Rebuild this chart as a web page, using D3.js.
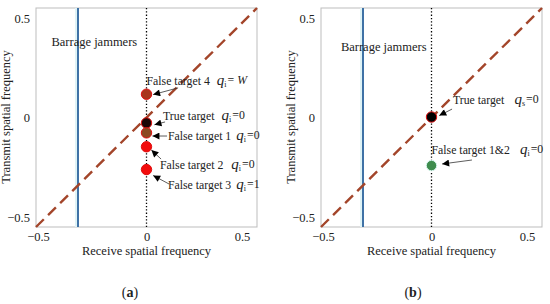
<!DOCTYPE html>
<html><head><meta charset="utf-8">
<script src="https://cdn.jsdelivr.net/npm/d3@7"></script>
<style>body{margin:0;background:#fff}svg{display:block;font-family:"Liberation Serif","Times New Roman",serif}svg text{font-family:"Liberation Serif","Times New Roman",serif !important;fill:#222}</style>
</head><body><svg id="c" width="550" height="304"></svg>
<script>
// ---- data ----
const xTicks = [-0.5, 0, 0.5];
const yTicks = [-0.5, 0, 0.5];
const xDomain = [-0.5, 0.5];
const yDomain = [-0.55, 0.555];
const jammerX = -0.31;          // barrage jammer receive frequency
const diagX = [-0.5, 0.5];      // dashed diagonal (clutter ridge)
const diagY = [-0.55, 0.555];
// panel (a) targets
const aNames  = ["False target 4", "True target", "False target 1", "False target 2", "False target 3"];
const aX      = [0, 0, 0, 0, 0];
const aY      = [0.12, -0.025, -0.075, -0.145, -0.26];
const aFill   = ["#a8361c", "#1c0606", "#8a4a22", "#f20c0c", "#f20c0c"];
const aQsub   = ["i", "i", "i", "i", "i"];
const aQval   = ["= W", "=0", "=0", "=0", "=1"];
// panel (b) targets
const bNames  = ["True target", "False target 1&2"];
const bX      = [0, 0];
const bY      = [0.005, -0.24];
const bFill   = ["#000000", "#3f8c4e"];
const bQsub   = ["s", "i"];
const bQval   = ["=0", "=0"];

const svg = d3.select("#c");
const defs = svg.append("defs");
defs.append("marker").attr("id","ah").attr("viewBox","0 0 10 10").attr("refX",10).attr("refY",5)
  .attr("markerWidth",9).attr("markerHeight",7).attr("markerUnits","userSpaceOnUse").attr("orient","auto")
  .append("path").attr("d","M0,0L10,5L0,10z").attr("fill","#000");

function panel(ox, names, xs, ys, fills, qsub, qval, labelDefs, arrows, tag, tagX, jamLbl) {
  const x = d3.scaleLinear().domain(xDomain).range([ox, ox + 221]);
  const y = d3.scaleLinear().domain(yDomain).range([227, 8]);
  const g = svg.append("g");
  const xa = g.append("g").attr("transform","translate(0,227)")
    .call(d3.axisBottom(x).tickValues(xTicks).tickSize(0).tickPadding(5).tickFormat(d3.format("")));
  xa.attr("font-family",null);
  xa.select(".domain").remove();
  xa.selectAll("text").attr("font-size",12.5).attr("fill","#222")
    .attr("dx", d => d === 0.5 ? -15 : (d === -0.5 ? 2 : 0));
  const ya = g.append("g").attr("transform",`translate(${ox},0)`)
    .call(d3.axisLeft(y).tickValues(yTicks).tickSize(0).tickPadding(6).tickFormat(d3.format("")));
  ya.attr("font-family",null);
  ya.select(".domain").remove();
  ya.selectAll("text").attr("font-size",12.5).attr("fill","#222");
  g.append("rect").attr("x",ox).attr("y",8).attr("width",221).attr("height",219)
    .attr("fill","none").attr("stroke","#bdbdbd").attr("stroke-width",1);
  g.append("line").attr("x1",x(jammerX)-1.5).attr("x2",x(jammerX)-1.5).attr("y1",8).attr("y2",227)
    .attr("stroke","#dff3f6").attr("stroke-width",3);
  g.append("line").attr("x1",x(jammerX)).attr("x2",x(jammerX)).attr("y1",8).attr("y2",227)
    .attr("stroke","#3f72a6").attr("stroke-width",2);
  g.append("line").attr("x1",x(0)).attr("x2",x(0)).attr("y1",8).attr("y2",227)
    .attr("stroke","#000").attr("stroke-width",1.3).attr("stroke-dasharray","1.3,2");
  g.append("line").attr("x1",x(diagX[0])).attr("y1",y(diagY[0])).attr("x2",x(diagX[1])).attr("y2",y(diagY[1]))
    .attr("stroke","#a3452a").attr("stroke-width",2.4).attr("stroke-dasharray","11,6");
  g.selectAll("circle.p").data(ys).join("circle").attr("class","p")
    .attr("cx",(d,i)=>x(xs[i])).attr("cy",d=>y(d)).attr("r",5.2)
    .attr("fill",(d,i)=>fills[i]).attr("stroke",(d,i)=> fills[i]==="#3f8c4e" ? "#d6f5ee" : "#e01010").attr("stroke-width",1);
  g.append("text").attr("x",x(jamLbl[0])).attr("y",y(jamLbl[1])).attr("dy","0.35em")
    .attr("font-size",12.5).text("Barrage jammers");
  names.forEach((nm,i)=>{
    const L = labelDefs[i];
    const t = g.append("text").attr("x",x(L[0])).attr("y",y(L[1])).attr("dy","0.35em").attr("font-size",11.8);
    t.append("tspan").text(nm);
    t.append("tspan").attr("dx",L[2]).attr("font-style","italic").attr("font-size",15).text("q");
    t.append("tspan").attr("font-size",8).attr("dy","0.25em").text(qsub[i]);
    const v = t.append("tspan").attr("dy","-0.25em").attr("font-size",11.8).attr("dx",1);
    if (qval[i].includes("W")) { v.text("= "); t.append("tspan").attr("font-style","italic").attr("font-size",11.8).text("W"); }
    else v.text(qval[i]);
    const A = arrows[i];
    g.append("line").attr("x1",x(A[0])).attr("y1",y(A[1])).attr("x2",x(A[2])).attr("y2",y(A[3]))
      .attr("stroke","#333").attr("stroke-width",0.8).attr("marker-end","url(#ah)");
  });
  g.append("text").attr("x",x(0)).attr("y",255).attr("text-anchor","middle").attr("font-size",12.5)
    .text("Receive spatial frequency");
  g.append("text").attr("transform",`translate(${ox-26},117) rotate(-90)`).attr("text-anchor","middle")
    .attr("font-size",12.5).text("Transmit spatial frequency");
  const tt = g.append("text").attr("x",tagX).attr("y",297).attr("text-anchor","middle").attr("font-size",14);
  tt.append("tspan").text("(");
  tt.append("tspan").attr("font-weight","bold").text(tag);
  tt.append("tspan").text(")");
}

panel(36, aNames, aX, aY, aFill, aQsub, aQval,
  [[0.0,0.187,7],[0.075,0.01,7],[0.097,-0.091,5],[0.061,-0.237,8],[0.097,-0.338,5]],
  [[0.143,0.152,0.03,0.118],[0.084,-0.02,0.036,-0.034],[0.093,-0.091,0.027,-0.091],[0.066,-0.207,0.022,-0.162],[0.102,-0.333,0.03,-0.29]],
  "a", 130, [-0.43, 0.385]);
panel(321, bNames, bX, bY, bFill, bQsub, bQval,
  [[0.097,0.091,10],[0.0,-0.162,10]],
  [[0.093,0.045,0.035,0.012],[0.183,-0.212,0.048,-0.232]],
  "b", 413, [-0.41, 0.36]);
</script></body></html>
